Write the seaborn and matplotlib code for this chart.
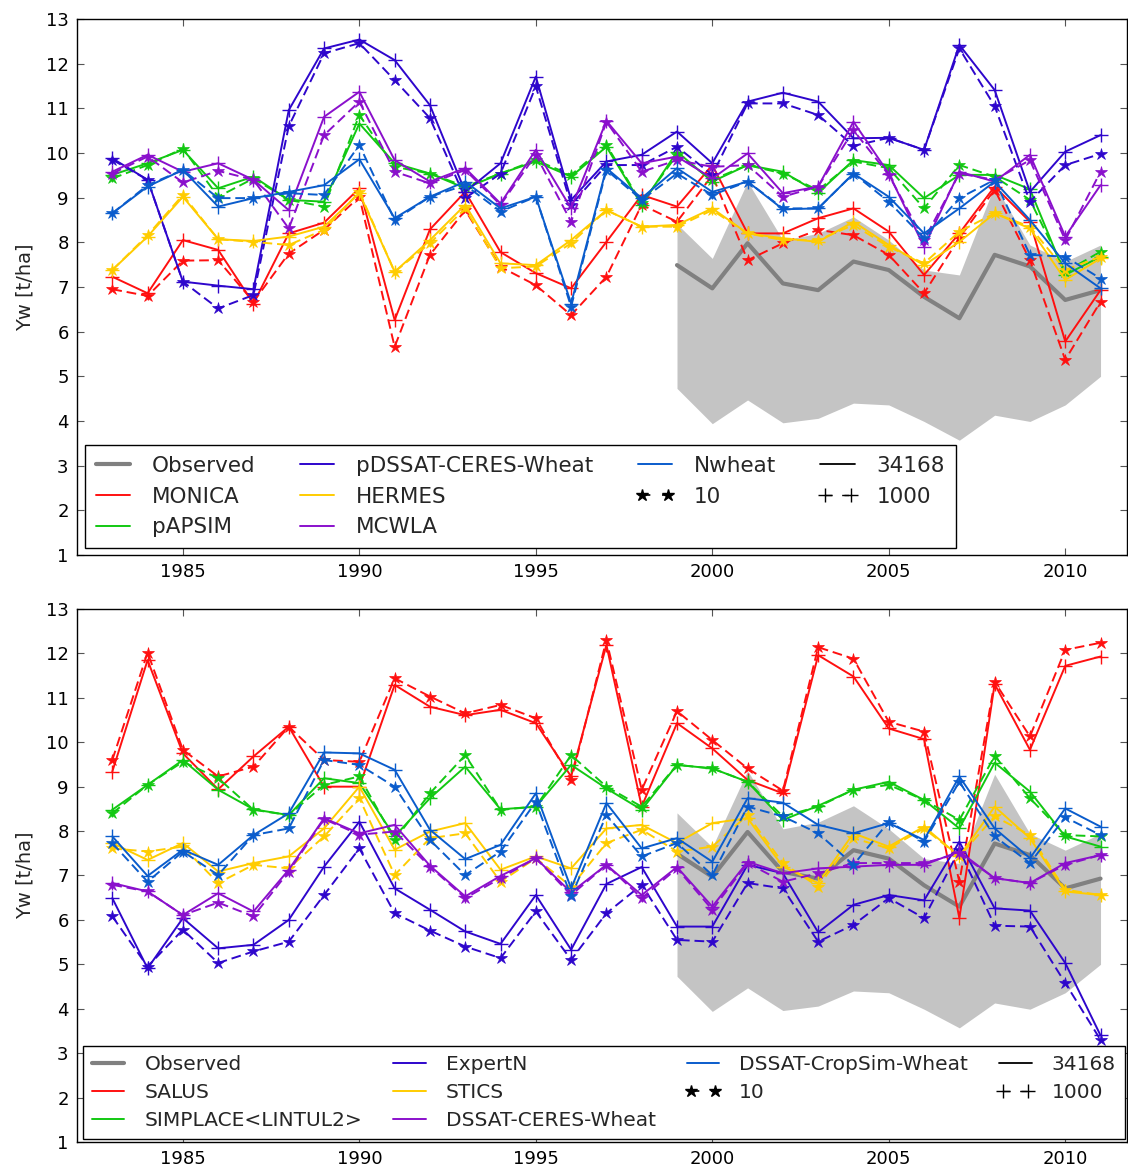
import numpy as np
import pandas as pd
import matplotlib
matplotlib.use("Agg")
import matplotlib.pyplot as plt
import seaborn as sns
from matplotlib.lines import Line2D
from matplotlib.legend_handler import HandlerLine2D

years = list(range(1983, 2012))
obs_years = list(range(1999, 2012))

observed = [7.49, 6.97, 7.98, 7.08, 6.93, 7.57, 7.38, 6.78, 6.30, 7.72, 7.46, 6.71, 6.93]
obs_upper = [8.41, 7.64, 9.36, 8.05, 8.20, 8.57, 8.05, 7.38, 7.27, 9.28, 7.94, 7.57, 7.94]
obs_lower = [4.73, 3.94, 4.47, 3.96, 4.06, 4.40, 4.36, 3.99, 3.57, 4.13, 3.99, 4.36, 5.00]

# ---- top panel models (1000 = solid/+, 10 = dashed/*) ----
monica_1000 = [7.23, 6.86, 8.05, 7.83, 6.63, 8.20, 8.44, 9.21, 6.26, 8.29, 9.13, 7.78, 7.31, 6.97, 8.01,
               9.06, 8.80, 9.73, 8.20, 8.20, 8.54, 8.76, 8.24, 7.27, 8.20, 9.25, 8.46, 5.78, 6.93]
monica_10 = [6.95, 6.80, 7.59, 7.60, 6.67, 7.75, 8.28, 9.02, 5.66, 7.72, 8.72, 7.45, 7.04, 6.37, 7.23,
             8.84, 8.46, 9.50, 7.60, 7.98, 8.28, 8.16, 7.72, 6.86, 8.10, 9.18, 7.60, 5.37, 6.67]
pdssat_1000 = [9.88, 9.40, 7.12, 7.03, 6.95, 10.96, 12.34, 12.54, 12.08, 11.07, 9.13, 9.77, 11.71, 8.95, 9.81,
               9.96, 10.48, 9.77, 11.15, 11.35, 11.15, 10.33, 10.34, 10.07, 12.42, 11.41, 9.13, 10.03, 10.40]
pdssat_10 = [9.85, 9.40, 7.12, 6.52, 6.82, 10.60, 12.23, 12.46, 11.63, 10.78, 8.99, 9.54, 11.49, 8.84, 9.73,
             9.73, 10.14, 9.51, 11.11, 11.11, 10.85, 10.16, 10.34, 10.07, 12.34, 11.05, 8.91, 9.73, 9.98]
papsim_1000 = [9.51, 9.77, 10.07, 9.21, 9.47, 8.95, 8.91, 10.66, 9.77, 9.54, 9.21, 9.54, 9.81, 9.47, 10.14,
               8.84, 10.03, 9.36, 9.73, 9.58, 9.11, 9.84, 9.73, 8.99, 9.51, 9.51, 9.19, 7.27, 7.68]
papsim_10 = [9.43, 9.73, 10.10, 9.02, 9.43, 8.95, 8.80, 10.85, 9.69, 9.54, 9.25, 9.54, 9.84, 9.51, 10.18,
             8.87, 9.96, 9.40, 9.73, 9.54, 9.17, 9.81, 9.66, 8.76, 9.73, 9.47, 8.95, 7.34, 7.79]
hermes_1000 = [7.38, 8.13, 9.02, 8.07, 8.03, 8.13, 8.35, 9.10, 7.34, 8.05, 8.84, 7.53, 7.49, 8.05, 8.72,
               8.35, 8.39, 8.76, 8.20, 8.09, 8.01, 8.46, 7.94, 7.49, 8.01, 8.65, 8.31, 7.16, 7.64]
hermes_10 = [7.38, 8.16, 9.06, 8.07, 8.01, 7.94, 8.28, 9.13, 7.34, 7.98, 8.76, 7.42, 7.46, 7.98, 8.72,
             8.35, 8.35, 8.72, 8.20, 8.05, 8.05, 8.39, 7.90, 7.53, 8.24, 8.65, 8.35, 7.38, 7.68]
mcwla_1000 = [9.58, 9.96, 9.58, 9.77, 9.40, 8.72, 10.81, 11.37, 9.84, 9.36, 9.66, 8.87, 10.07, 8.76, 10.72,
              9.77, 9.92, 9.43, 9.99, 9.10, 9.25, 10.70, 9.54, 7.90, 9.58, 9.36, 9.96, 8.13, 9.28]
mcwla_10 = [9.54, 9.92, 9.34, 9.60, 9.40, 8.31, 10.40, 11.15, 9.58, 9.32, 9.62, 8.84, 9.96, 8.46, 10.70,
            9.58, 9.84, 9.69, 9.73, 9.02, 9.25, 10.51, 9.51, 8.05, 9.54, 9.40, 9.84, 8.05, 9.58]
nwheat_1000 = [8.65, 9.25, 9.62, 8.80, 8.99, 9.13, 9.28, 9.86, 8.54, 9.02, 9.36, 8.76, 9.02, 6.63, 9.66,
               8.99, 9.66, 9.13, 9.36, 8.74, 8.76, 9.54, 9.02, 8.20, 8.76, 9.36, 8.50, 7.53, 6.97]
nwheat_10 = [8.65, 9.28, 9.62, 8.99, 8.99, 9.10, 9.06, 10.18, 8.50, 9.02, 9.28, 8.69, 9.02, 6.56, 9.62,
             8.95, 9.54, 9.06, 9.36, 8.76, 8.76, 9.54, 8.91, 8.09, 8.99, 9.40, 7.72, 7.68, 7.19]

# ---- bottom panel models ----
salus_1000 = [9.34, 11.85, 9.75, 8.94, 9.68, 10.35, 9.00, 9.00, 11.29, 10.80, 10.61, 10.73, 10.43, 9.23, 12.19,
              8.55, 10.43, 9.86, 9.15, 8.85, 11.96, 11.48, 10.31, 10.07, 6.04, 11.31, 9.83, 11.72, 11.93]
salus_10 = [9.60, 12.02, 9.83, 9.23, 9.45, 10.35, 9.60, 9.56, 11.44, 11.03, 10.65, 10.84, 10.54, 9.15, 12.30,
            8.93, 10.70, 10.05, 9.41, 8.91, 12.14, 11.88, 10.46, 10.24, 6.86, 11.36, 10.13, 12.08, 12.24]
simplace_1000 = [8.48, 9.04, 9.60, 8.93, 8.49, 8.36, 9.19, 9.08, 7.88, 8.74, 9.45, 8.49, 8.55, 9.49, 8.96,
                 8.48, 9.49, 9.41, 9.11, 8.25, 8.57, 8.93, 9.11, 8.70, 8.06, 9.54, 8.89, 7.88, 7.65]
simplace_10 = [8.40, 9.04, 9.56, 9.19, 8.48, 8.36, 9.04, 9.23, 7.80, 8.85, 9.71, 8.48, 8.55, 9.71, 9.00,
               8.55, 9.49, 9.41, 9.11, 8.33, 8.55, 8.93, 9.04, 8.70, 8.25, 9.69, 8.74, 7.91, 7.88]
expertn_1000 = [6.49, 4.91, 6.04, 5.36, 5.44, 6.00, 7.20, 8.21, 6.71, 6.23, 5.74, 5.46, 6.56, 5.33, 6.81,
                7.19, 5.85, 5.85, 7.24, 7.05, 5.72, 6.34, 6.56, 6.44, 7.76, 6.26, 6.21, 5.03, 3.40]
expertn_10 = [6.08, 4.95, 5.78, 5.03, 5.29, 5.51, 6.56, 7.61, 6.15, 5.76, 5.40, 5.14, 6.19, 5.10, 6.15,
              6.79, 5.55, 5.51, 6.83, 6.71, 5.51, 5.89, 6.49, 6.04, 7.58, 5.87, 5.85, 4.58, 3.30]
stics_1000 = [7.73, 7.35, 7.73, 7.09, 7.28, 7.43, 8.06, 9.00, 7.58, 7.99, 8.18, 7.13, 7.43, 7.16, 8.06,
              8.14, 7.73, 8.18, 8.29, 7.20, 6.83, 7.95, 7.65, 8.10, 7.43, 8.55, 7.84, 6.64, 6.56]
stics_10 = [7.61, 7.54, 7.65, 6.83, 7.24, 7.16, 7.88, 8.74, 7.01, 7.84, 7.95, 6.86, 7.39, 6.75, 7.73,
            8.03, 7.54, 7.65, 8.36, 7.28, 6.75, 7.84, 7.61, 8.06, 7.43, 8.33, 7.91, 6.68, 6.56]
ceres_1000 = [6.83, 6.64, 6.11, 6.60, 6.19, 7.13, 8.29, 7.95, 8.14, 7.22, 6.53, 6.99, 7.39, 6.62, 7.24,
              6.56, 7.19, 6.30, 7.31, 7.05, 7.16, 7.20, 7.24, 7.24, 7.54, 6.94, 6.83, 7.28, 7.46]
ceres_10 = [6.79, 6.64, 6.11, 6.39, 6.08, 7.09, 8.27, 7.92, 7.99, 7.20, 6.49, 6.94, 7.39, 6.56, 7.24,
            6.49, 7.16, 6.23, 7.28, 6.86, 7.05, 7.28, 7.28, 7.28, 7.50, 6.94, 6.83, 7.24, 7.46]
cropsim_1000 = [7.88, 6.99, 7.58, 7.24, 7.91, 8.40, 9.77, 9.75, 9.38, 8.03, 7.37, 7.69, 8.85, 6.71, 8.63,
                7.61, 7.84, 7.31, 8.74, 8.64, 8.14, 7.95, 8.18, 7.80, 9.23, 8.06, 7.39, 8.51, 8.10]
cropsim_10 = [7.73, 6.86, 7.54, 7.01, 7.91, 8.06, 9.60, 9.49, 9.00, 7.80, 7.01, 7.54, 8.66, 6.53, 8.36,
              7.43, 7.73, 7.01, 8.55, 8.33, 7.95, 7.24, 8.21, 7.76, 9.11, 7.88, 7.28, 8.31, 7.91]

RED, GREEN, INDIGO, GOLD, PURPLE, BLUE = "#FF1010", "#12C812", "#2E06CC", "#FFCC00", "#8A10CC", "#0A5CCC"

top_models = [("MONICA", monica_1000, monica_10, RED),
              ("pAPSIM", papsim_1000, papsim_10, GREEN),
              ("pDSSAT-CERES-Wheat", pdssat_1000, pdssat_10, INDIGO),
              ("HERMES", hermes_1000, hermes_10, GOLD),
              ("MCWLA", mcwla_1000, mcwla_10, PURPLE),
              ("Nwheat", nwheat_1000, nwheat_10, BLUE)]
bot_models = [("SALUS", salus_1000, salus_10, RED),
              ("SIMPLACE<LINTUL2>", simplace_1000, simplace_10, GREEN),
              ("ExpertN", expertn_1000, expertn_10, INDIGO),
              ("STICS", stics_1000, stics_10, GOLD),
              ("DSSAT-CERES-Wheat", ceres_1000, ceres_10, PURPLE),
              ("DSSAT-CropSim-Wheat", cropsim_1000, cropsim_10, BLUE)]

sns.set_theme(style="ticks")
plt.rcParams.update({
    "font.family": ["DejaVu Sans"],
    "xtick.direction": "in", "ytick.direction": "in",
    "xtick.top": True, "ytick.right": True,
    "xtick.major.size": 5, "ytick.major.size": 5,
    "xtick.major.width": 0.8, "ytick.major.width": 0.8,
    "xtick.color": "#555555", "ytick.color": "#555555",
    "xtick.labelcolor": "black", "ytick.labelcolor": "black",
    "axes.edgecolor": "black", "axes.linewidth": 1.0,
})

fig = plt.figure(figsize=(11.28, 11.72), dpi=100)
W, H = 1128, 1172
ax_top = fig.add_axes([77 / W, 1 - 555 / H, (1127 - 77) / W, (555 - 19) / H])
ax_bot = fig.add_axes([77 / W, 1 - 1142 / H, (1127 - 77) / W, (1142 - 609) / H])

DASH = (0, (5, 2.5))


def draw(ax, models):
    ax.fill_between(obs_years, obs_lower, obs_upper, color="#C4C4C4", linewidth=0, zorder=1)
    sns.lineplot(x=obs_years, y=observed, ax=ax, color="#808080", linewidth=3, zorder=2)
    for name, v1000, v10, col in models:
        sns.lineplot(x=years, y=v1000, ax=ax, color=col, linewidth=1.4, marker="+",
                     markersize=9.5, markeredgewidth=1.0, markeredgecolor=col, zorder=3)
        sns.lineplot(x=years, y=v10, ax=ax, color=col, linewidth=1.4, linestyle=DASH, marker="*",
                     markersize=9, markeredgewidth=0.5, markeredgecolor=col, zorder=3)
    ax.set_xlim(1982, 2011.75)
    ax.set_ylim(1, 13)
    ax.set_xticks([1985, 1990, 1995, 2000, 2005, 2010])
    ax.set_yticks(range(1, 14))
    ax.tick_params(labelsize=13, pad=6)
    ax.set_ylabel("Yw [t/ha]", fontsize=14, labelpad=8)
    ax.set_xlabel("")


draw(ax_top, top_models)
draw(ax_bot, bot_models)


def legend_handles(models):
    plain = HandlerLine2D(marker_pad=0, numpoints=2)
    marked = HandlerLine2D(marker_pad=0.2, numpoints=2)
    h = [Line2D([], [], color="#808080", linewidth=3)]
    lab = ["Observed"]
    for name, _, _, col in models:
        h.append(Line2D([], [], color=col, linewidth=1.4))
        lab.append(name)
    star = Line2D([], [], color="black", linewidth=1.2, linestyle=(0, (5, 7)), marker="*", markersize=9)
    solid = Line2D([], [], color="black", linewidth=1.3)
    plus = Line2D([], [], color="black", linewidth=1.0, linestyle=(0, (5, 7)), marker="+", markersize=9.5)
    h += [star, solid, plus]
    lab += ["10", "34168", "1000"]
    hmap = {x: plain for x in h}
    hmap[star] = marked
    hmap[plus] = marked
    return h, lab, hmap


# order: Observed, MONICA, pAPSIM | pDSSAT, HERMES, MCWLA | Nwheat, 10 | 34168, 1000
h, lab, hmap = legend_handles(top_models)
leg = ax_top.legend(h, lab, handler_map=hmap, ncol=4, loc="lower left", bbox_to_anchor=(0.0076, 0.013),
                    borderaxespad=0, frameon=True, fancybox=False, edgecolor="black",
                    framealpha=1, fontsize=15.5, handlelength=1.6, handletextpad=1.0,
                    columnspacing=2.07, labelspacing=0.5, borderpad=0.5)
leg.get_frame().set_linewidth(1.0)

h, lab, hmap = legend_handles(bot_models)
leg = ax_bot.legend(h, lab, handler_map=hmap, ncol=4, loc="lower left", bbox_to_anchor=(0.0057, 0.006),
                    borderaxespad=0, frameon=True, fancybox=False, edgecolor="black",
                    framealpha=1, fontsize=14.5, handlelength=1.6, handletextpad=1.0,
                    columnspacing=1.55, labelspacing=0.45, borderpad=0.45)
leg.get_frame().set_linewidth(1.0)

fig.savefig("out.png", dpi=100)
